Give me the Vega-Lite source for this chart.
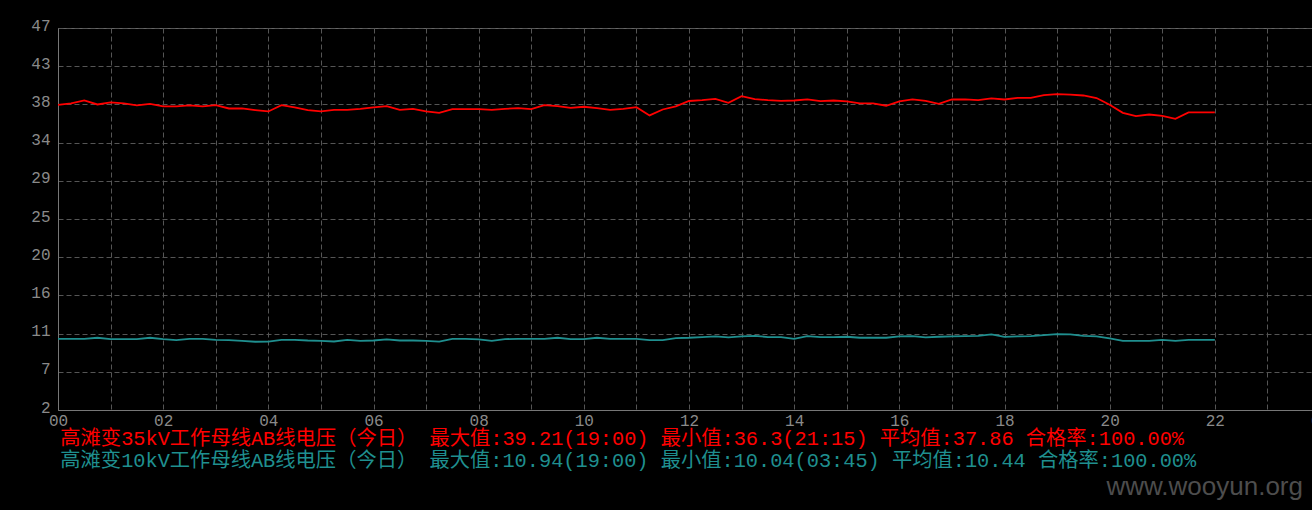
{
 "$schema": "https://vega.github.io/schema/vega-lite/v6.json",
 "background": "#000000",
 "width": 1262,
 "height": 382,
 "autosize": {"type": "none"},
 "padding": {"left": 58, "top": 28, "right": 0, "bottom": 100},
 "title": {"text": "www.wooyun.org", "orient": "bottom", "anchor": "end", "frame": "group", "color": "#4d4d4d", "font": "Liberation Sans", "fontSize": 26, "fontWeight": "normal", "offset": 2, "dx": -17},
 "datasets": {
  "series": [
   {"s": "a", "name": "高滩变35kV工作母线AB线电压（今日） 最大值:39.21(19:00) 最小值:36.3(21:15) 平均值:37.86 合格率:100.00%"},
   {"s": "b", "name": "高滩变10kV工作母线AB线电压（今日） 最大值:10.94(19:00) 最小值:10.04(03:45) 平均值:10.44 合格率:100.00%"}
  ]
 },
 "data": {"values": [
  {"t":0,"s":"a","v":37.95},{"t":0.25,"s":"a","v":38.11},{"t":0.5,"s":"a","v":38.46},{"t":0.75,"s":"a","v":37.99},
  {"t":1,"s":"a","v":38.23},{"t":1.25,"s":"a","v":38.11},{"t":1.5,"s":"a","v":37.88},{"t":1.75,"s":"a","v":38.07},
  {"t":2,"s":"a","v":37.76},{"t":2.25,"s":"a","v":37.76},{"t":2.5,"s":"a","v":37.88},{"t":2.75,"s":"a","v":37.76},
  {"t":3,"s":"a","v":37.91},{"t":3.25,"s":"a","v":37.52},{"t":3.5,"s":"a","v":37.52},{"t":3.75,"s":"a","v":37.33},
  {"t":4,"s":"a","v":37.17},{"t":4.25,"s":"a","v":37.91},{"t":4.5,"s":"a","v":37.64},{"t":4.75,"s":"a","v":37.33},
  {"t":5,"s":"a","v":37.17},{"t":5.25,"s":"a","v":37.36},{"t":5.5,"s":"a","v":37.36},{"t":5.75,"s":"a","v":37.48},
  {"t":6,"s":"a","v":37.64},{"t":6.25,"s":"a","v":37.80},{"t":6.5,"s":"a","v":37.36},{"t":6.75,"s":"a","v":37.48},
  {"t":7,"s":"a","v":37.17},{"t":7.25,"s":"a","v":37.01},{"t":7.5,"s":"a","v":37.44},{"t":7.75,"s":"a","v":37.44},
  {"t":8,"s":"a","v":37.44},{"t":8.25,"s":"a","v":37.36},{"t":8.5,"s":"a","v":37.48},{"t":8.75,"s":"a","v":37.56},
  {"t":9,"s":"a","v":37.44},{"t":9.25,"s":"a","v":37.91},{"t":9.5,"s":"a","v":37.80},{"t":9.75,"s":"a","v":37.60},
  {"t":10,"s":"a","v":37.72},{"t":10.25,"s":"a","v":37.56},{"t":10.5,"s":"a","v":37.36},{"t":10.75,"s":"a","v":37.48},
  {"t":11,"s":"a","v":37.68},{"t":11.25,"s":"a","v":36.70},{"t":11.5,"s":"a","v":37.40},{"t":11.75,"s":"a","v":37.76},
  {"t":12,"s":"a","v":38.40},{"t":12.25,"s":"a","v":38.50},{"t":12.5,"s":"a","v":38.66},{"t":12.75,"s":"a","v":38.19},
  {"t":13,"s":"a","v":38.97},{"t":13.25,"s":"a","v":38.62},{"t":13.5,"s":"a","v":38.50},{"t":13.75,"s":"a","v":38.42},
  {"t":14,"s":"a","v":38.46},{"t":14.25,"s":"a","v":38.58},{"t":14.5,"s":"a","v":38.39},{"t":14.75,"s":"a","v":38.46},
  {"t":15,"s":"a","v":38.35},{"t":15.25,"s":"a","v":38.11},{"t":15.5,"s":"a","v":38.11},{"t":15.75,"s":"a","v":37.84},
  {"t":16,"s":"a","v":38.35},{"t":16.25,"s":"a","v":38.58},{"t":16.5,"s":"a","v":38.42},{"t":16.75,"s":"a","v":38.07},
  {"t":17,"s":"a","v":38.58},{"t":17.25,"s":"a","v":38.58},{"t":17.5,"s":"a","v":38.50},{"t":17.75,"s":"a","v":38.70},
  {"t":18,"s":"a","v":38.58},{"t":18.25,"s":"a","v":38.78},{"t":18.5,"s":"a","v":38.78},{"t":18.75,"s":"a","v":39.10},
  {"t":19,"s":"a","v":39.21},{"t":19.25,"s":"a","v":39.15},{"t":19.5,"s":"a","v":39.05},{"t":19.75,"s":"a","v":38.75},
  {"t":20,"s":"a","v":37.95},{"t":20.25,"s":"a","v":37.00},{"t":20.5,"s":"a","v":36.62},{"t":20.75,"s":"a","v":36.81},
  {"t":21,"s":"a","v":36.65},{"t":21.25,"s":"a","v":36.30},{"t":21.5,"s":"a","v":37.05},{"t":21.75,"s":"a","v":37.05},
  {"t":22,"s":"a","v":37.05},
  {"t":0,"s":"b","v":10.39},{"t":0.25,"s":"b","v":10.39},{"t":0.5,"s":"b","v":10.39},{"t":0.75,"s":"b","v":10.51},
  {"t":1,"s":"b","v":10.35},{"t":1.25,"s":"b","v":10.35},{"t":1.5,"s":"b","v":10.35},{"t":1.75,"s":"b","v":10.51},
  {"t":2,"s":"b","v":10.35},{"t":2.25,"s":"b","v":10.23},{"t":2.5,"s":"b","v":10.39},{"t":2.75,"s":"b","v":10.39},
  {"t":3,"s":"b","v":10.27},{"t":3.25,"s":"b","v":10.23},{"t":3.5,"s":"b","v":10.15},{"t":3.75,"s":"b","v":10.04},
  {"t":4,"s":"b","v":10.06},{"t":4.25,"s":"b","v":10.27},{"t":4.5,"s":"b","v":10.27},{"t":4.75,"s":"b","v":10.19},
  {"t":5,"s":"b","v":10.15},{"t":5.25,"s":"b","v":10.07},{"t":5.5,"s":"b","v":10.27},{"t":5.75,"s":"b","v":10.15},
  {"t":6,"s":"b","v":10.19},{"t":6.25,"s":"b","v":10.31},{"t":6.5,"s":"b","v":10.19},{"t":6.75,"s":"b","v":10.19},
  {"t":7,"s":"b","v":10.15},{"t":7.25,"s":"b","v":10.05},{"t":7.5,"s":"b","v":10.39},{"t":7.75,"s":"b","v":10.39},
  {"t":8,"s":"b","v":10.31},{"t":8.25,"s":"b","v":10.15},{"t":8.5,"s":"b","v":10.35},{"t":8.75,"s":"b","v":10.39},
  {"t":9,"s":"b","v":10.39},{"t":9.25,"s":"b","v":10.39},{"t":9.5,"s":"b","v":10.51},{"t":9.75,"s":"b","v":10.35},
  {"t":10,"s":"b","v":10.35},{"t":10.25,"s":"b","v":10.51},{"t":10.5,"s":"b","v":10.39},{"t":10.75,"s":"b","v":10.39},
  {"t":11,"s":"b","v":10.39},{"t":11.25,"s":"b","v":10.23},{"t":11.5,"s":"b","v":10.23},{"t":11.75,"s":"b","v":10.47},
  {"t":12,"s":"b","v":10.51},{"t":12.25,"s":"b","v":10.59},{"t":12.5,"s":"b","v":10.67},{"t":12.75,"s":"b","v":10.55},
  {"t":13,"s":"b","v":10.67},{"t":13.25,"s":"b","v":10.74},{"t":13.5,"s":"b","v":10.59},{"t":13.75,"s":"b","v":10.59},
  {"t":14,"s":"b","v":10.39},{"t":14.25,"s":"b","v":10.70},{"t":14.5,"s":"b","v":10.59},{"t":14.75,"s":"b","v":10.59},
  {"t":15,"s":"b","v":10.63},{"t":15.25,"s":"b","v":10.51},{"t":15.5,"s":"b","v":10.51},{"t":15.75,"s":"b","v":10.51},
  {"t":16,"s":"b","v":10.67},{"t":16.25,"s":"b","v":10.70},{"t":16.5,"s":"b","v":10.55},{"t":16.75,"s":"b","v":10.63},
  {"t":17,"s":"b","v":10.67},{"t":17.25,"s":"b","v":10.70},{"t":17.5,"s":"b","v":10.74},{"t":17.75,"s":"b","v":10.90},
  {"t":18,"s":"b","v":10.61},{"t":18.25,"s":"b","v":10.67},{"t":18.5,"s":"b","v":10.70},{"t":18.75,"s":"b","v":10.82},
  {"t":19,"s":"b","v":10.94},{"t":19.25,"s":"b","v":10.90},{"t":19.5,"s":"b","v":10.74},{"t":19.75,"s":"b","v":10.67},
  {"t":20,"s":"b","v":10.43},{"t":20.25,"s":"b","v":10.15},{"t":20.5,"s":"b","v":10.15},{"t":20.75,"s":"b","v":10.15},
  {"t":21,"s":"b","v":10.27},{"t":21.25,"s":"b","v":10.15},{"t":21.5,"s":"b","v":10.27},{"t":21.75,"s":"b","v":10.27},
  {"t":22,"s":"b","v":10.27}
 ]},
 "transform": [
  {"lookup": "s", "from": {"data": {"name": "series"}, "key": "s", "fields": ["name"]}}
 ],
 "mark": {"type": "line", "strokeWidth": 1.8},
 "encoding": {
  "x": {
   "field": "t", "type": "quantitative",
   "scale": {"domain": [0, 24], "nice": false, "zero": false},
   "axis": {
    "title": null,
    "values": [0,1,2,3,4,5,6,7,8,9,10,11,12,13,14,15,16,17,18,19,20,21,22,23,24],
    "labelExpr": "datum.value % 2 ? '' : ((datum.value % 24) < 10 ? '0' : '') + (datum.value % 24)",
    "grid": true, "gridColor": "#555555", "gridDash": [5, 3], "gridWidth": 1,
    "tickSize": 0, "domainColor": "#777777", "domainWidth": 1,
    "labelColor": "#8a8a8a", "labelFont": "Liberation Mono", "labelFontSize": 16,
    "labelPadding": 2, "labelFlush": false, "labelOverlap": false
   }
  },
  "y": {
   "field": "v", "type": "quantitative",
   "scale": {"domain": [2, 47], "nice": false, "zero": false},
   "axis": {
    "title": null,
    "values": [2, 6.5, 11, 15.5, 20, 24.5, 29, 33.5, 38, 42.5, 47],
    "labelExpr": "round(datum.value)",
    "grid": true, "gridColor": "#555555", "gridDash": [5, 3], "gridWidth": 1,
    "tickSize": 0, "domainColor": "#777777", "domainWidth": 1,
    "labelColor": "#8a8a8a", "labelFont": "Liberation Mono", "labelFontSize": 16,
    "labelPadding": 8, "labelOffset": -3, "labelFlush": false, "labelOverlap": false
   }
  },
  "color": {
   "field": "name", "type": "nominal", "sort": "descending",
   "scale": {"range": ["#ff0000", "#1f8f8f"]},
   "legend": {
    "orient": "none", "legendX": -18, "legendY": 401, "title": null, "padding": 0,
    "symbolSize": 0, "symbolStrokeWidth": 0, "symbolOpacity": 0, "labelOffset": 0,
    "labelLimit": 3000, "labelFont": "Liberation Mono, Noto Sans CJK SC", "labelFontSize": 20.3,
    "rowPadding": 0.7,
    "encode": {"labels": {"update": {"fill": {"scale": "color", "field": "value"}}}}
   }
  }
 },
 "config": {"view": {"stroke": "#666666", "strokeWidth": 1}}
}
